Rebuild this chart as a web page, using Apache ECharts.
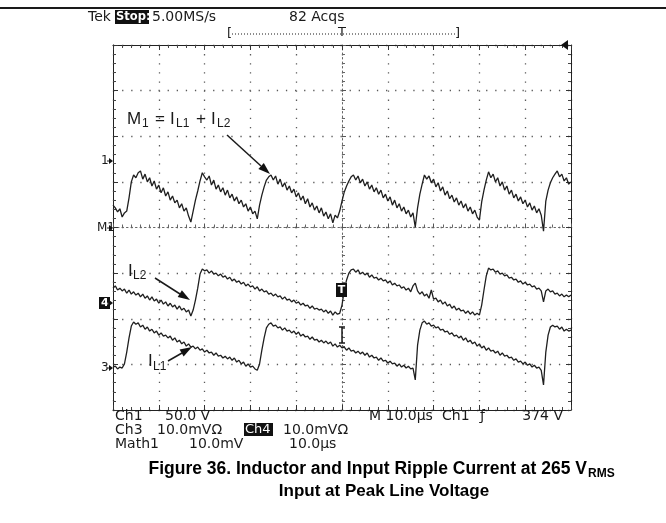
<!DOCTYPE html>
<html>
<head>
<meta charset="utf-8">
<script src="https://cdn.jsdelivr.net/npm/echarts@6/dist/echarts.min.js"></script>
<style>
html, body { margin: 0; padding: 0; background: #fff; }
#scope { width: 666px; height: 523px; }
</style>
</head>
<body>
<div id="scope"></div>
<script>
// record: one sample every 0.5 us, trigger at t = 0 (screen centre), 10 us/div
var sampleStep = 0.5
var startTime = -50

// traces, in vertical divisions from screen centre
var mathTrace = [0.49, 0.43, 0.34, 0.41, 0.23, 0.32, 0.36, 0.65,
  1.00, 1.15, 1.09, 1.20, 1.24, 1.06, 1.17, 1.00, 1.09, 0.91, 1.02, 0.84, 0.93, 0.76, 0.87, 0.69, 0.78, 0.60, 0.69, 0.54, 0.60, 0.43, 0.52, 0.36, 0.43, 0.25, 0.12, 0.36,
  0.60, 0.80, 1.02, 1.20, 1.11, 1.04, 1.13, 0.93, 1.04, 0.84, 0.93, 0.78, 0.87, 0.71, 0.82, 0.65, 0.73, 0.58, 0.67, 0.52, 0.60, 0.45, 0.52, 0.36, 0.45, 0.30, 0.36, 0.19,
  0.49, 0.71, 0.89, 1.04, 1.11, 1.15, 1.04, 1.13, 0.95, 1.06, 0.89, 0.98, 0.82, 0.91, 0.76, 0.84, 0.67, 0.76, 0.60, 0.69, 0.52, 0.63, 0.45, 0.54, 0.38, 0.47, 0.32, 0.43,
  0.25, 0.34, 0.19, 0.30, 0.10, 0.27, 0.21, 0.36, 0.58, 0.78, 0.91, 1.02, 1.11, 1.15, 1.04, 1.13, 0.98, 1.06, 0.91, 1.00, 0.84, 0.93, 0.78, 0.87, 0.73, 0.82, 0.65, 0.73,
  0.58, 0.67, 0.49, 0.60, 0.43, 0.52, 0.36, 0.45, 0.30, 0.38, 0.23, 0.32, 0.01, 0.43, 0.73, 0.95, 1.15, 1.06, 1.13, 0.98, 1.06, 0.89, 0.98, 0.80, 0.89, 0.71, 0.80, 0.63,
  0.71, 0.56, 0.65, 0.49, 0.58, 0.43, 0.52, 0.36, 0.45, 0.30, 0.38, 0.23, 0.16, 0.56, 0.82, 1.04, 1.22, 1.09, 1.17, 1.00, 1.09, 0.91, 1.00, 0.82, 0.91, 0.73, 0.82, 0.65,
  0.73, 0.58, 0.67, 0.52, 0.60, 0.45, 0.54, 0.38, 0.47, 0.32, 0.41, 0.27, -0.08, 0.58, 0.82, 0.98, 1.09, 1.17, 1.24, 1.11, 1.17, 1.02, 1.09, 0.95, 1.00]

var il2Trace = [-1.33, -1.28, -1.37, -1.33, -1.39, -1.35, -1.44, -1.37, -1.46, -1.41, -1.48, -1.44, -1.52, -1.46, -1.55, -1.50, -1.59, -1.52, -1.61, -1.57,
  -1.66, -1.59, -1.68, -1.63, -1.72, -1.66, -1.74, -1.70, -1.79, -1.72, -1.81, -1.77, -1.85, -1.81, -1.94, -1.81, -1.59, -1.33, -1.02, -0.91,
  -0.95, -0.93, -1.00, -0.95, -1.02, -1.00, -1.06, -1.02, -1.09, -1.06, -1.13, -1.09, -1.17, -1.13, -1.20, -1.17, -1.24, -1.20, -1.28, -1.24,
  -1.30, -1.28, -1.35, -1.30, -1.39, -1.35, -1.41, -1.39, -1.46, -1.44, -1.50, -1.46, -1.52, -1.50, -1.57, -1.52, -1.59, -1.57, -1.63, -1.59,
  -1.66, -1.63, -1.70, -1.66, -1.72, -1.70, -1.77, -1.72, -1.79, -1.77, -1.81, -1.79, -1.85, -1.81, -1.88, -1.83, -1.92, -1.85, -1.90, -1.88,
  -1.70, -1.37, -1.15, -1.00, -0.93, -0.91, -0.98, -0.93, -1.02, -0.98, -1.04, -1.00, -1.09, -1.04, -1.11, -1.09, -1.15, -1.11, -1.17, -1.15,
  -1.22, -1.17, -1.26, -1.22, -1.28, -1.26, -1.33, -1.30, -1.37, -1.33, -1.41, -1.28, -1.22, -1.39, -1.46, -1.41, -1.50, -1.46, -1.55, -1.37,
  -1.57, -1.55, -1.63, -1.59, -1.68, -1.63, -1.72, -1.68, -1.77, -1.72, -1.81, -1.77, -1.83, -1.81, -1.88, -1.83, -1.90, -1.85, -1.92, -1.88,
  -1.92, -1.70, -1.37, -1.06, -0.89, -0.93, -0.91, -0.98, -0.95, -1.02, -1.00, -1.06, -1.04, -1.11, -1.09, -1.15, -1.13, -1.20, -1.17, -1.24,
  -1.20, -1.26, -1.24, -1.30, -1.28, -1.35, -1.33, -1.39, -1.63, -1.39, -1.35, -1.41, -1.39, -1.46, -1.44, -1.50, -1.46, -1.52, -1.48, -1.52, -1.48]

var il1Trace = [-3.06, -3.04, -3.10, -3.06, -3.08, -2.99, -2.73, -2.42, -2.16, -2.07, -2.12, -2.09, -2.18, -2.14, -2.23, -2.18, -2.27, -2.23, -2.31, -2.27,
  -2.36, -2.31, -2.38, -2.36, -2.42, -2.38, -2.47, -2.42, -2.51, -2.47, -2.55, -2.51, -2.60, -2.55, -2.62, -2.60, -2.66, -2.62, -2.69, -2.66,
  -2.73, -2.69, -2.75, -2.73, -2.80, -2.75, -2.82, -2.80, -2.86, -2.82, -2.88, -2.84, -2.91, -2.86, -2.95, -2.91, -2.99, -2.95, -3.04, -2.99,
  -3.06, -3.04, -3.10, -3.13, -2.99, -2.69, -2.42, -2.20, -2.12, -2.09, -2.16, -2.14, -2.20, -2.18, -2.25, -2.20, -2.27, -2.25, -2.31, -2.27,
  -2.34, -2.29, -2.38, -2.34, -2.40, -2.38, -2.45, -2.40, -2.47, -2.45, -2.51, -2.47, -2.53, -2.49, -2.55, -2.51, -2.60, -2.55, -2.62, -2.58,
  -2.64, -2.62, -2.69, -2.64, -2.71, -2.69, -2.75, -2.71, -2.77, -2.73, -2.80, -2.75, -2.84, -2.80, -2.86, -2.84, -2.91, -2.86, -2.93, -2.91,
  -2.97, -2.93, -2.99, -2.97, -3.04, -2.99, -3.06, -3.02, -3.08, -3.04, -3.10, -3.08, -3.34, -2.58, -2.25, -2.09, -2.05, -2.12, -2.09, -2.16,
  -2.14, -2.20, -2.18, -2.25, -2.23, -2.29, -2.27, -2.34, -2.31, -2.38, -2.36, -2.42, -2.38, -2.47, -2.42, -2.51, -2.47, -2.55, -2.51, -2.60,
  -2.55, -2.64, -2.60, -2.69, -2.64, -2.71, -2.69, -2.75, -2.71, -2.80, -2.75, -2.82, -2.80, -2.86, -2.84, -2.91, -2.88, -2.95, -2.93, -2.99,
  -2.95, -3.02, -2.99, -3.06, -3.02, -3.08, -3.06, -3.13, -3.45, -2.73, -2.36, -2.18, -2.14, -2.18, -2.16, -2.23, -2.18, -2.27, -2.23, -2.27, -2.25]

// readout texts
var headerLeft = '5.00MS/s'
var acquisitions = '82 Acqs'
var readoutRows = [
  ['Ch1', '50.0 V', 'M 10.0\u00b5s', 'Ch1', '374 V'],
  ['Ch3', '10.0mV\u03a9', 'Ch4', '10.0mV\u03a9'],
  ['Math1', '10.0mV', '10.0\u00b5s']
]
var captionMain = 'Figure 36. Inductor and Input Ripple Current at 265 V'
var captionSub = 'RMS'
var captionSecond = 'Input at Peak Line Voltage'

function toPoints (trace) {
  return trace.map(function (v, i) { return [startTime + i * sampleStep, v] })
}

var scopeFont = 'DejaVu Sans'
var armFont = 'Liberation Sans'

function txt (s, x, y, opts) {
  opts = opts || {}
  return {
    type: 'text',
    z: 10,
    style: {
      text: s,
      x: x,
      y: y,
      fill: opts.fill || '#1a1a1a',
      fontSize: opts.size || 13,
      fontFamily: opts.family || scopeFont,
      fontWeight: opts.weight || 'normal',
      textAlign: opts.align || 'left',
      verticalAlign: 'middle'
    }
  }
}

function box (x, y, w, h) {
  return { type: 'rect', z: 9, shape: { x: x, y: y, width: w, height: h }, style: { fill: '#111' } }
}

function seg (x1, y1, x2, y2, w, dash) {
  return { type: 'line', z: 10, shape: { x1: x1, y1: y1, x2: x2, y2: y2 }, style: { stroke: '#1a1a1a', lineWidth: w || 1, lineDash: dash || null } }
}

function tri (pts) {
  return { type: 'polygon', z: 10, shape: { points: pts }, style: { fill: '#111' } }
}

// left-edge channel marker: label and a small arrow into the frame
function marker (label, y, inverted) {
  var items = []
  if (inverted) {
    items.push(box(99, y - 6, 11, 12))
    items.push(txt(label, 101, y, { fill: '#fff', size: 11, weight: 'bold' }))
  } else {
    items.push(txt(label, label.length > 1 ? 97 : 101, y, { size: 12 }))
  }
  items.push(seg(107, y, 111, y, 1))
  items.push(tri([[109, y - 3], [113, y], [109, y + 3]]))
  return items
}

var frameLine = { onZero: false, lineStyle: { color: '#222', width: 1 } }
var frameTick = { inside: true, length: 5, lineStyle: { color: '#333' } }
var frameMinor = { show: true, splitNumber: 5, length: 3, lineStyle: { color: '#444' } }
var gridDots = { show: true, lineStyle: { color: '#5a5a5a', width: 1.3, type: [1.3, 7.8] } }

function xAx (position, split) {
  return {
    type: 'value', min: -50, max: 50, interval: 10, position: position,
    axisLine: frameLine, axisTick: frameTick, minorTick: frameMinor,
    axisLabel: { show: false }, splitLine: split ? gridDots : { show: false }
  }
}
function yAx (position, split) {
  return {
    type: 'value', min: -4, max: 4, interval: 1, position: position,
    axisLine: frameLine, axisTick: frameTick, minorTick: frameMinor,
    axisLabel: { show: false }, splitLine: split ? gridDots : { show: false }
  }
}
// centre graticule lines, with their own minor ticks
var centreLine = { onZero: true, lineStyle: { color: '#666', width: 1, type: [1.5, 3] } }
var centreX = { type: 'value', min: -50, max: 50, interval: 10, axisLine: centreLine,
  axisTick: { length: 4, lineStyle: { color: '#555' } }, minorTick: { show: true, splitNumber: 5, length: 3, lineStyle: { color: '#666' } },
  axisLabel: { show: false }, splitLine: { show: false } }
var centreY = { type: 'value', min: -4, max: 4, interval: 1, axisLine: centreLine,
  axisTick: { length: 4, lineStyle: { color: '#555' } }, minorTick: { show: true, splitNumber: 5, length: 3, lineStyle: { color: '#666' } },
  axisLabel: { show: false }, splitLine: { show: false } }

var traceStyle = { color: '#1f1f1f', width: 1.3 }

var graphics = [
  seg(0, 8, 666, 8, 2),
  txt('Tek', 88, 17, { size: 14 }),
  box(115, 10, 34, 14),
  txt('Stop:', 116, 17, { fill: '#fff', size: 11.5, weight: 'bold' }),
  txt(headerLeft, 152, 17, { size: 14 }),
  txt(acquisitions, 289, 17, { size: 14 }),
  txt('[', 227, 34, { size: 13 }),
  seg(232, 34, 455, 34, 1, [1, 2]),
  txt(']', 455, 34, { size: 13 }),
  txt('T', 342, 33, { size: 13, align: 'center' }),
  tri([[561, 45], [568, 40], [568, 50]]),
  // trigger markers at screen centre
  box(336, 283, 11, 14),
  txt('T', 341.5, 290, { fill: '#fff', size: 11, weight: 'bold', align: 'center' }),
  seg(342, 327, 342, 343, 1.5),
  seg(339, 327, 345, 327, 1.5),
  seg(339, 343, 345, 343, 1.5),
  // annotations
  txt('M', 127, 119, { size: 17, family: armFont }),
  txt('1', 142, 124, { size: 12, family: armFont }),
  txt('=', 155, 119, { size: 17, family: armFont }),
  txt('I', 170, 119, { size: 17, family: armFont }),
  txt('L1', 176, 124, { size: 12, family: armFont }),
  txt('+', 196, 119, { size: 17, family: armFont }),
  txt('I', 211, 119, { size: 17, family: armFont }),
  txt('L2', 217, 124, { size: 12, family: armFont }),
  seg(227, 135, 261, 166, 1.5),
  tri([[270, 174], [258.4, 168.9], [263.8, 162.9]]),
  txt('I', 128, 271, { size: 17, family: armFont }),
  txt('L2', 133, 276, { size: 12, family: armFont }),
  seg(155, 278, 180, 294, 1.5),
  tri([[190, 300], [177.7, 297], [181.9, 290.2]]),
  txt('I', 148, 361, { size: 17, family: armFont }),
  txt('L1', 153, 367, { size: 12, family: armFont }),
  seg(168, 361, 182, 353, 1.5),
  tri([[192, 347], [183.6, 356.5], [179.6, 349.5]]),
  // readout
  txt(readoutRows[0][0], 115, 416, { size: 14 }),
  txt(readoutRows[0][1], 165, 416, { size: 14 }),
  txt(readoutRows[0][2], 369, 416, { size: 14 }),
  txt(readoutRows[0][3], 442, 416, { size: 14 }),
  txt('\u0192', 480, 416, { size: 14 }),
  txt(readoutRows[0][4], 563, 416, { size: 14, align: 'right' }),
  txt(readoutRows[1][0], 115, 430, { size: 14 }),
  txt(readoutRows[1][1], 157, 430, { size: 14 }),
  box(244, 423, 29, 13),
  txt(readoutRows[1][2], 245, 430, { fill: '#fff', size: 13 }),
  txt(readoutRows[1][3], 283, 430, { size: 14 }),
  txt(readoutRows[2][0], 115, 444, { size: 14 }),
  txt(readoutRows[2][1], 189, 444, { size: 14 }),
  txt(readoutRows[2][2], 289, 444, { size: 14 }),
  // caption
  txt(captionMain, 587, 469, { size: 17.5, family: armFont, weight: 'bold', align: 'right', fill: '#000' }),
  txt(captionSub, 588, 474, { size: 12, family: armFont, weight: 'bold', fill: '#000' }),
  txt(captionSecond, 384, 491, { size: 17, family: armFont, weight: 'bold', align: 'center', fill: '#000' })
]
graphics = graphics
  .concat(marker('1', 161))
  .concat(marker('M1', 228))
  .concat(marker('4', 303, true))
  .concat(marker('3', 368))

var chart = echarts.init(document.getElementById('scope'), null, { renderer: 'canvas' })
chart.setOption({
  animation: false,
  backgroundColor: '#fff',
  grid: { left: 113, top: 45, width: 458, height: 365, show: false },
  xAxis: [xAx('bottom', true), xAx('top', false), centreX],
  yAxis: [yAx('left', true), yAx('right', false), centreY],
  series: [
    { name: 'M1', type: 'line', data: toPoints(mathTrace), showSymbol: false, lineStyle: traceStyle, xAxisIndex: 0, yAxisIndex: 0 },
    { name: 'IL2', type: 'line', data: toPoints(il2Trace), showSymbol: false, lineStyle: traceStyle, xAxisIndex: 0, yAxisIndex: 0 },
    { name: 'IL1', type: 'line', data: toPoints(il1Trace), showSymbol: false, lineStyle: traceStyle, xAxisIndex: 0, yAxisIndex: 0 }
  ],
  graphic: graphics
})
</script>
</body>
</html>
